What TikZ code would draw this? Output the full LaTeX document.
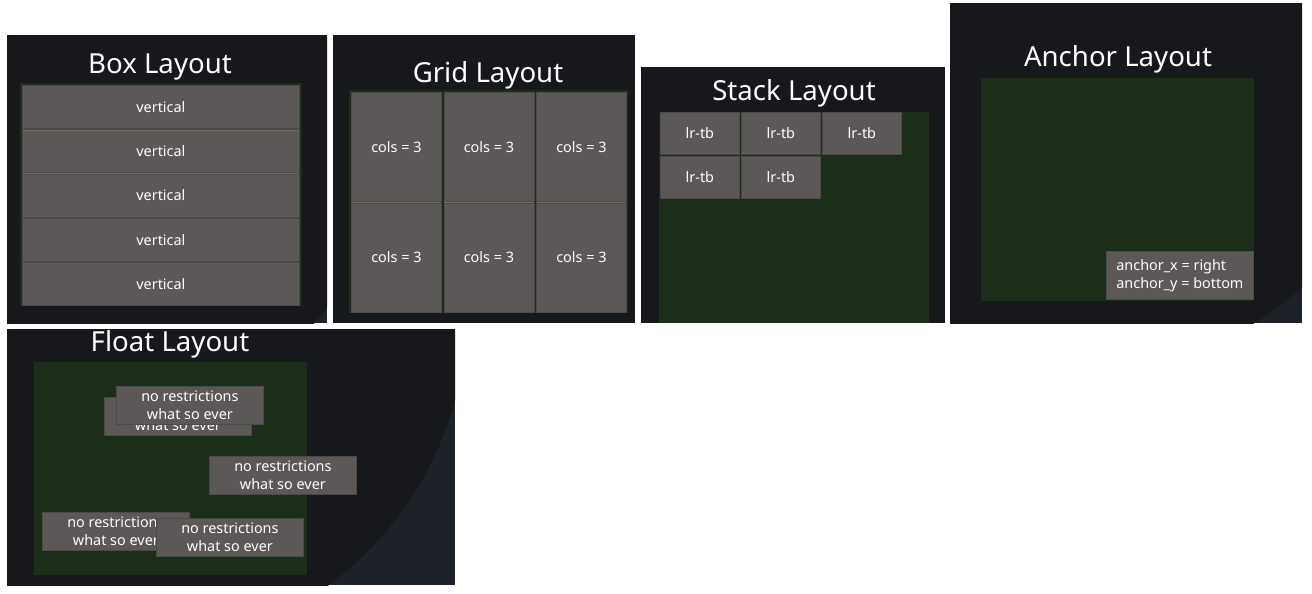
\documentclass[tikz,border=0pt]{standalone}
\usepackage{fontspec}
\setmainfont{Noto Sans}
\usepackage{xcolor}
\usepackage{tikz}
\usetikzlibrary{positioning}

\definecolor{wall}{HTML}{16181B}
\definecolor{wallhi}{HTML}{1D2128}
\definecolor{areagreen}{HTML}{1C2D1A}
\definecolor{btngray}{HTML}{5C5857}
\definecolor{btnedge}{HTML}{4C4A49}
\definecolor{btnhi}{HTML}{706D6B}

\begin{document}
\begin{tikzpicture}[
  x=0.5pt,y=-0.5pt,
  area/.style={fill=areagreen},
  title/.style={text=white,font=\fontsize{13.8}{16}\selectfont,
                anchor=base,inner sep=0pt},
  btn/.style={draw=btnedge,fill=btngray,line width=0.4pt,text=white,
              font=\fontsize{7.2}{9}\selectfont,inner sep=0pt,
              anchor=north west,
              path picture={\draw[btnhi,line width=1pt]
                (path picture bounding box.north west) --
                (path picture bounding box.north east);}},
  rowbtn/.style={btn,minimum width=138.5pt,minimum height=21.5pt},
  cellbtn/.style={btn,minimum width=45pt,minimum height=54.5pt},
  stackbtn/.style={btn,minimum width=39.5pt,minimum height=21pt},
  floatbtn/.style={btn,minimum width=73.5pt,minimum height=19pt,
                   align=center}
]
\useasboundingbox[fill=white] (0,0) rectangle (1312,594);

% Box layout
\begin{scope}
  \clip (7,35) rectangle (327,323);
  \fill[wallhi] (7,35) rectangle (327,323);
  \fill[wall] (53,101) circle[radius=343];
\end{scope}
\node[title] (boxtitle) at (160,73) {Box Layout};
\fill[area] (20,83) rectangle (302,306);
\foreach \i in {0,...,4}
  \node[rowbtn] (box\i) at (22,{85+44.25*\i}) {vertical};

% Grid layout
\fill[wall] (333,35) rectangle (635,323);
\node[title] (gridtitle) at (488,82) {Grid Layout};
\fill[area] (349,90) rectangle (628,313);
\foreach \r in {0,1}
  \foreach \c in {0,1,2}
    \node[cellbtn] (grid\r\c) at ({351+92.5*\c},{92+110.5*\r}) {cols = 3};

% Stack layout
\fill[wall] (641,67) rectangle (945,323);
\node[title] (stacktitle) at (794,100) {Stack Layout};
\fill[area] (659,112) rectangle (929,323);
\foreach \c in {0,1,2}
  \node[stackbtn] (stacka\c) at ({660+81*\c},112) {lr-tb};
\foreach \c in {0,1}
  \node[stackbtn] (stackb\c) at ({660+81*\c},156) {lr-tb};

% Anchor layout
\begin{scope}
  \clip (950,3) rectangle (1302,323);
  \fill[wallhi] (950,3) rectangle (1302,323);
  \fill[wall] (1073,32) circle[radius=343];
\end{scope}
\node[title] (anchortitle) at (1118,66) {Anchor Layout};
\fill[area] (981,78) rectangle (1254,301);
\node[btn,minimum width=73.5pt,minimum height=24pt,align=left]
  (anchorbtn) at (1106,251) {anchor\_x = right\\anchor\_y = bottom};

% Float layout
\begin{scope}
  \clip (7,329) rectangle (455,585);
  \fill[wallhi] (7,329) rectangle (455,585);
  \fill[wall] (124,310) circle[radius=343];
\end{scope}
\node[title] (floattitle) at (170,351) {Float Layout};
\fill[area] (34,362) rectangle (307,575);
\node[floatbtn] (floata) at (104,397) {no restrictions\\what so ever};
\node[floatbtn] (floatb) at (116,386) {no restrictions\\what so ever};
\node[floatbtn] (floatc) at (209,456) {no restrictions\\what so ever};
\node[floatbtn] (floatd) at (42,512) {no restrictions\\what so ever};
\node[floatbtn] (floate) at (156,518) {no restrictions\\what so ever};
\end{tikzpicture}
\end{document}
